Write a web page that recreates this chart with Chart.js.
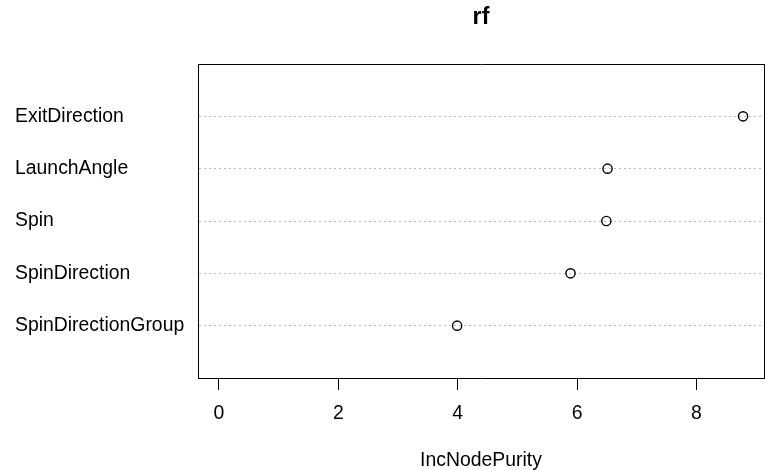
<!DOCTYPE html>
<html>
<head>
<meta charset="utf-8">
<title>rf</title>
<script src="https://cdn.jsdelivr.net/npm/chart.js@4.4.1/dist/chart.umd.min.js"></script>
<style>
  html, body { margin: 0; padding: 0; background: #fff; }
  canvas { display: block; }
</style>
</head>
<body>
<canvas id="chart" width="765" height="470"></canvas>
<script>
// variable importance of the rf model, top row first
const variables = ["ExitDirection", "LaunchAngle", "Spin", "SpinDirection", "SpinDirectionGroup"];
const incNodePurity = [8.78, 6.51, 6.49, 5.89, 3.99];
const xTicks = [0, 2, 4, 6, 8];

const FONT = "'Liberation Sans', Arial, Helvetica, sans-serif";
const TEXT_SIZE = 19.4;

// like R: xlim starts at 0 and the range is padded 4% on both sides
const xMaxData = Math.max(...incNodePurity);
const xMin = -0.04 * xMaxData;
const xMax = 1.04 * xMaxData;

const points = variables.map((name, i) => ({ x: incNodePurity[i], y: i + 1 }));

new Chart(document.getElementById("chart"), {
  type: "scatter",
  data: {
    datasets: [
      {
        data: points,
        pointStyle: "circle",
        pointRadius: 4.6,
        pointBorderWidth: 1.4,
        pointBorderColor: "#000",
        pointBackgroundColor: "rgba(0,0,0,0)",
      },
    ],
  },
  options: {
    responsive: false,
    animation: false,
    events: [],
    layout: { autoPadding: false, padding: { left: 15, right: 0, top: 0, bottom: 0 } },
    plugins: {
      legend: { display: false },
      tooltip: { enabled: false },
    },
    scales: {
      x: {
        type: "linear",
        position: "bottom",
        min: xMin,
        max: xMax,
        afterBuildTicks: (s) => {
          s.ticks = xTicks.map((v) => ({ value: v }));
        },
        afterFit: (s) => {
          s.height = 92;
        },
        ticks: {
          color: "#000",
          padding: 12,
          font: { family: FONT, size: TEXT_SIZE },
        },
        grid: {
          drawOnChartArea: false,
          drawTicks: true,
          tickLength: 12,
          color: "#000",
          lineWidth: 1,
        },
        border: { color: "#000", width: 1 },
        title: {
          display: true,
          text: "IncNodePurity",
          color: "#000",
          padding: 0,
          font: { family: FONT, size: TEXT_SIZE, lineHeight: 1 },
        },
      },
      y: {
        type: "linear",
        position: "left",
        reverse: true,
        min: 0,
        max: variables.length + 1,
        afterBuildTicks: (s) => {
          s.ticks = variables.map((_, i) => ({ value: i + 1 }));
        },
        afterFit: (s) => {
          s.width = 183;
        },
        ticks: {
          color: "#000",
          crossAlign: "far",
          autoSkip: false,
          font: { family: FONT, size: TEXT_SIZE },
          callback: (v) => variables[v - 1],
        },
        grid: {
          drawTicks: false,
          color: "#bbbbbb",
          lineWidth: 1,
        },
        border: { color: "#000", width: 1, dash: [2, 3] },
      },
      // extra axes close the box and carry the main title
      xTop: {
        axis: "x",
        type: "linear",
        position: "top",
        min: xMin,
        max: xMax,
        afterFit: (s) => {
          s.height = 64;
        },
        ticks: { display: false },
        grid: { display: false },
        border: { color: "#000", width: 1 },
        title: {
          display: true,
          text: "rf",
          color: "#000",
          padding: { top: 4, bottom: 0 },
          font: { family: FONT, size: 23.3, weight: "bold" },
        },
      },
      yRight: {
        axis: "y",
        type: "linear",
        position: "right",
        min: 0,
        max: variables.length + 1,
        afterFit: (s) => {
          s.width = 1;
        },
        ticks: { display: false },
        grid: { display: false },
        border: { color: "#000", width: 1 },
      },
    },
  },
});
</script>
</body>
</html>
